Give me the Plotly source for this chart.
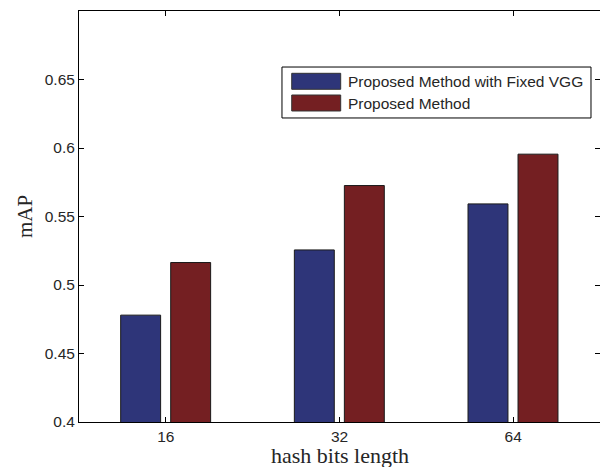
import plotly.graph_objects as go

categories = ["16", "32", "64"]
fixed_vgg = [0.478, 0.5256, 0.5592]
proposed = [0.5164, 0.5726, 0.5955]
series_names = ["Proposed Method with Fixed VGG", "Proposed Method"]
y_ticks = [0.4, 0.45, 0.5, 0.55, 0.6, 0.65]
y_tick_text = ["0.4", "0.45", "0.5", "0.55", "0.6", "0.65"]
x_title = "hash bits length"
y_title = "mAP"

BLUE = "#2E3579"
RED = "#741F22"
colors = [BLUE, RED]
TXT = "#262626"
SANS = "Liberation Sans, Arial"
SERIF = "Liberation Serif, Times New Roman"

fig = go.Figure()
for vals, name, col, off in zip([fixed_vgg, proposed], series_names, colors, [-0.26, 0.028]):
    fig.add_trace(go.Bar(
        x=categories, y=vals, name=name,
        marker=dict(color=col, line=dict(color="#1a1a1a", width=1)),
        width=0.23, offset=off, showlegend=False,
    ))

# MATLAB-style legend box (wide swatches)
fig.add_shape(type="rect", xref="paper", yref="paper",
              x0=0.3896, x1=0.9827, y0=0.7397, y1=0.8637,
              line=dict(color="black", width=1), fillcolor="white", layer="above")
sw_top = [0.8484, 0.7956]
sw_bot = [0.8095, 0.7567]
txt_y = [0.829, 0.776]
for i, (name, col) in enumerate(zip(series_names, colors)):
    fig.add_shape(type="rect", xref="paper", yref="paper",
                  x0=0.4083, x1=0.5023, y0=sw_bot[i], y1=sw_top[i],
                  line=dict(color="#333333", width=1), fillcolor=col, layer="above")
    fig.add_annotation(xref="paper", yref="paper", x=0.5125, y=txt_y[i],
                       text=name, showarrow=False, xanchor="left", yanchor="middle",
                       font=dict(family=SANS, size=15.5, color=TXT))

# x-axis title placed just under the tick labels (as in the reference)
fig.add_annotation(xref="paper", yref="paper", x=0.501, y=-0.048,
                   text=x_title, showarrow=False, xanchor="center", yanchor="top",
                   borderpad=0,
                   font=dict(family=SERIF, size=22, color=TXT))

axis_common = dict(
    showline=True, linecolor="black", linewidth=1, mirror="ticks",
    ticks="inside", ticklen=5, tickcolor="black", showgrid=False, zeroline=False,
    tickfont=dict(family=SANS, size=15.5, color=TXT),
)

fig.update_layout(
    width=600, height=467,
    margin=dict(l=79, r=0, t=11, b=45),
    paper_bgcolor="white", plot_bgcolor="white",
    barmode="overlay",
    showlegend=False,
    xaxis=dict(type="category", range=[-0.5, 2.5], **axis_common),
    yaxis=dict(
        range=[0.4, 0.7], tickvals=y_ticks, ticktext=y_tick_text,
        title=dict(text=y_title, standoff=6,
                   font=dict(family=SERIF, size=21, color=TXT)),
        **axis_common,
    ),
)

fig.write_html(
    "out.html",
    config={"displayModeBar": False},
    post_script="document.body.style.margin='0';document.body.style.overflow='hidden';",
)
